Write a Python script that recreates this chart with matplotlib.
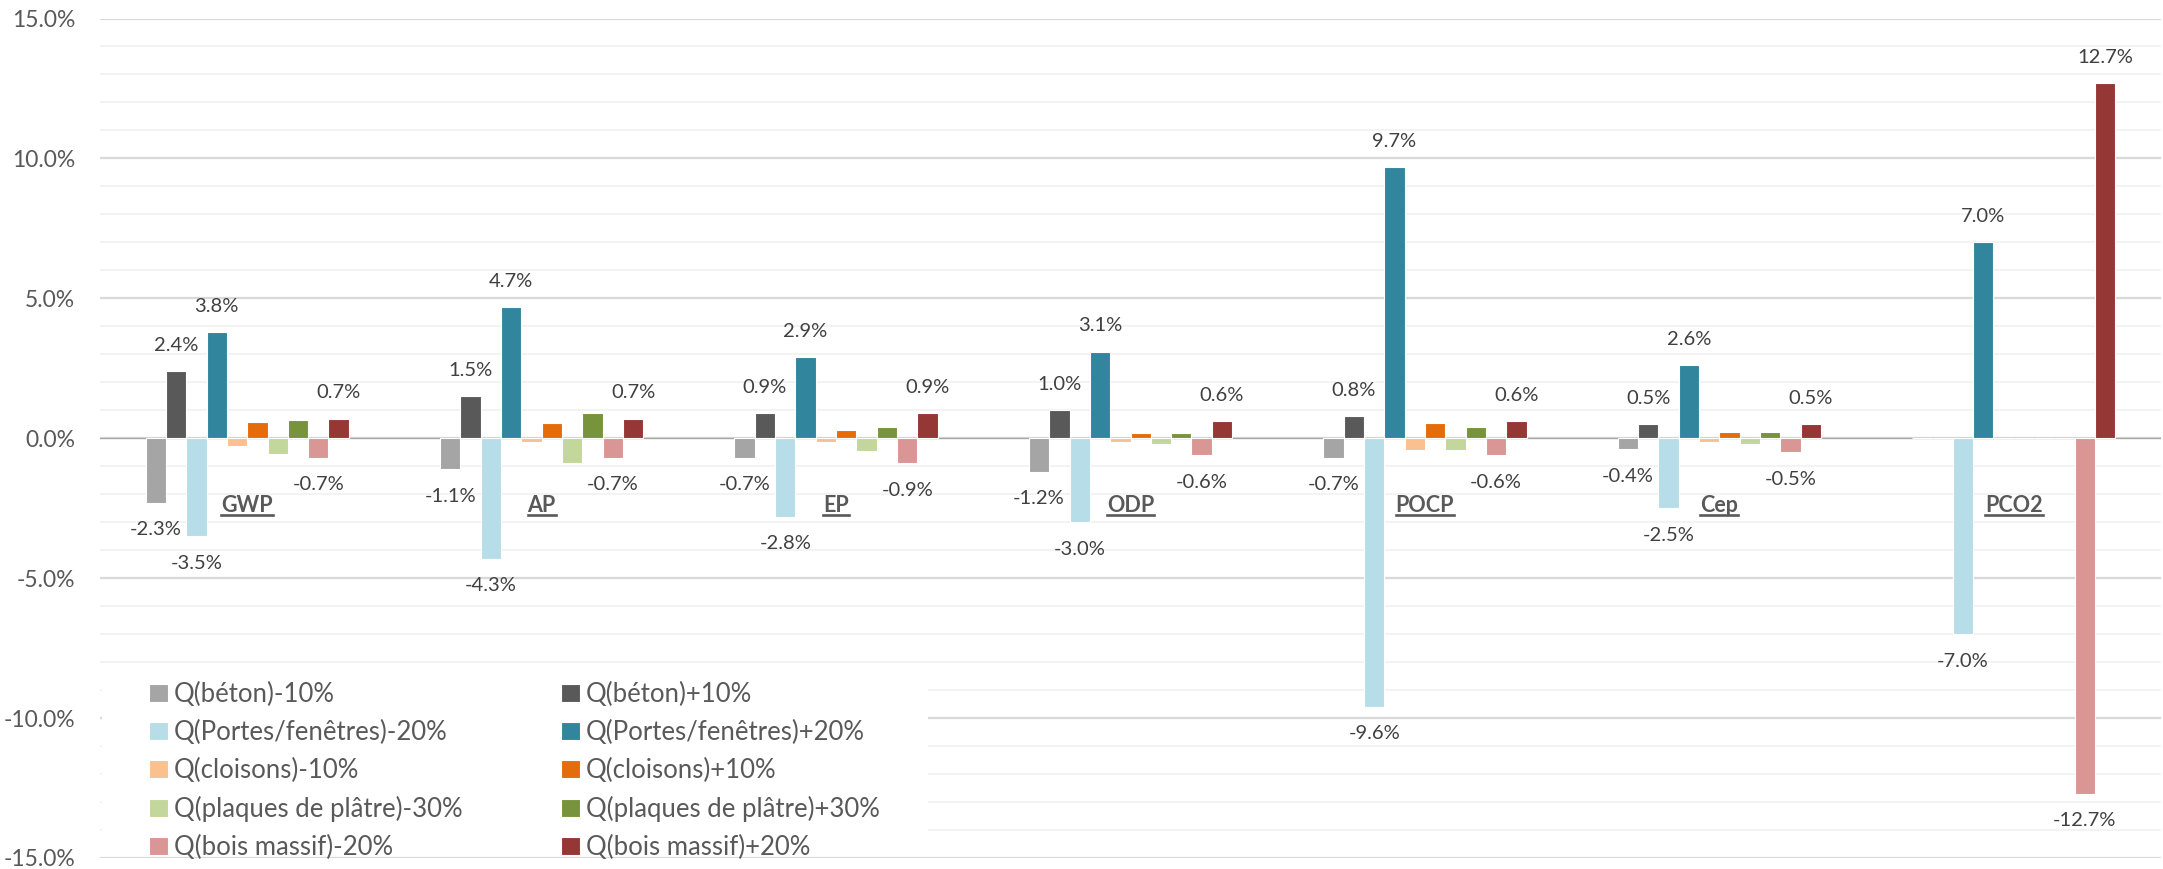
import matplotlib
matplotlib.use("Agg")
import matplotlib.pyplot as plt
from matplotlib.patches import Rectangle
from matplotlib.lines import Line2D
import numpy as np

plt.rcParams['font.family'] = ['Lato', 'DejaVu Sans']

# Catégories (indicateurs)
categories = ["GWP", "AP", "EP", "ODP", "POCP", "Cep", "PCO2"]

# Séries (variations en %)
series_names = [
    "Q(béton)-10%", "Q(béton)+10%",
    "Q(Portes/fenêtres)-20%", "Q(Portes/fenêtres)+20%",
    "Q(cloisons)-10%", "Q(cloisons)+10%",
    "Q(plaques de plâtre)-30%", "Q(plaques de plâtre)+30%",
    "Q(bois massif)-20%", "Q(bois massif)+20%",
]
beton_m10 = [-2.3, -1.1, -0.7, -1.2, -0.7, -0.4, 0.0]
beton_p10 = [2.4, 1.5, 0.9, 1.0, 0.8, 0.5, 0.0]
portes_m20 = [-3.5, -4.3, -2.8, -3.0, -9.6, -2.5, -7.0]
portes_p20 = [3.8, 4.7, 2.9, 3.1, 9.7, 2.6, 7.0]
cloisons_m10 = [-0.27, -0.14, -0.14, -0.14, -0.41, -0.14, 0.0]
cloisons_p10 = [0.57, 0.55, 0.31, 0.17, 0.56, 0.24, 0.0]
plaques_m30 = [-0.56, -0.87, -0.45, -0.21, -0.41, -0.21, 0.0]
plaques_p30 = [0.65, 0.92, 0.41, 0.17, 0.40, 0.24, 0.0]
bois_m20 = [-0.7, -0.7, -0.9, -0.6, -0.6, -0.5, -12.7]
bois_p20 = [0.7, 0.7, 0.9, 0.6, 0.6, 0.5, 12.7]

colors = ["#A5A5A5", "#595959", "#B7DEE8", "#31859C", "#FAC090",
          "#E46C0A", "#C3D69B", "#77933C", "#D99694", "#953735"]
labeled = [0, 1, 2, 3, 8, 9]  # séries avec étiquettes de données

data = [beton_m10, beton_p10, portes_m20, portes_p20, cloisons_m10,
        cloisons_p10, plaques_m30, plaques_p30, bois_m20, bois_p20]

W, H = 2163, 869
fig = plt.figure(figsize=(W / 100, H / 100), dpi=100)
ax = fig.add_axes([100 / W, 1 - 858 / H, 2061 / W, (858 - 18.5) / H])

x = np.arange(len(categories))
bw = 0.069
for j, (vals, name, col) in enumerate(zip(data, series_names, colors)):
    pos = x + (j - 4.5) * bw
    bars = ax.bar(pos, vals, width=bw, color=col, edgecolor="white",
                  linewidth=0.8, label=name, zorder=2)
    if j in labeled:
        for b, v in zip(bars, vals):
            if v == 0:
                continue
            off = 18.5 if v > 0 else -19.5
            ax.annotate(f"{v:.1f}%", (b.get_x() + b.get_width() / 2, v),
                        xytext=(0, off), textcoords="offset points",
                        ha="center", va="center", fontsize=14.5, color="#404040")

ax.set_xlim(-0.5, len(categories) - 0.5)
ax.set_ylim(-15, 15)
ax.set_yticks(np.arange(-15, 16, 5))
ax.set_yticks(np.arange(-15, 16, 1), minor=True)
ax.set_yticklabels([f"{t:.1f}%" for t in np.arange(-15, 16, 5)])
ax.tick_params(axis="y", which="both", length=0, pad=18, labelsize=16.5,
               labelcolor="#595959")
ax.set_xticks([])
ax.grid(axis="y", which="minor", color="#F2F2F2", linewidth=1.3)
ax.grid(axis="y", which="major", color="#D9D9D9", linewidth=1.6)
ax.set_axisbelow(True)
ax.axhline(0, color="#A6A6A6", linewidth=0.9, zorder=1.8)
for s in ax.spines.values():
    s.set_visible(False)

# Étiquettes des catégories (gras, soulignées)
cat_texts = []
for xi, c in zip(x, categories):
    t = ax.text(xi, -2.64, c, ha="center", va="baseline", fontsize=15.5,
                fontweight="bold", color="#595959", zorder=4)
    cat_texts.append(t)

# Fond blanc derrière la légende
ax.add_patch(Rectangle((102 / W, 1 - 852 / H), (928 - 102) / W, (852 - 675) / H,
                       transform=fig.transFigure, facecolor="white",
                       edgecolor="none", zorder=1.5))

handles, labels = ax.get_legend_handles_labels()
leg_kw = dict(frameon=False, fontsize=18.5, handlelength=0.74, handleheight=0.7,
              handletextpad=0.22, labelspacing=0.5, borderpad=0,
              borderaxespad=0, loc="upper left", labelcolor="#595959")
leg1 = ax.legend(handles[0::2], labels[0::2],
                 bbox_to_anchor=(149 / W, 1 - 682 / H),
                 bbox_transform=fig.transFigure, **leg_kw)
ax.add_artist(leg1)
leg2 = ax.legend(handles[1::2], labels[1::2],
                 bbox_to_anchor=(561 / W, 1 - 682 / H),
                 bbox_transform=fig.transFigure, **leg_kw)
for lg in (leg1, leg2):
    lg.set_zorder(5)

# Soulignement
fig.canvas.draw()
r = fig.canvas.get_renderer()
for t in cat_texts:
    bb = t.get_window_extent(r)
    yb = ax.transData.transform((0, -2.64))[1] - 3
    fig.add_artist(Line2D([bb.x0 / W, bb.x1 / W], [yb / H, yb / H],
                          transform=fig.transFigure, color="#595959",
                          linewidth=1.9))

fig.savefig("out.png", dpi=100)
